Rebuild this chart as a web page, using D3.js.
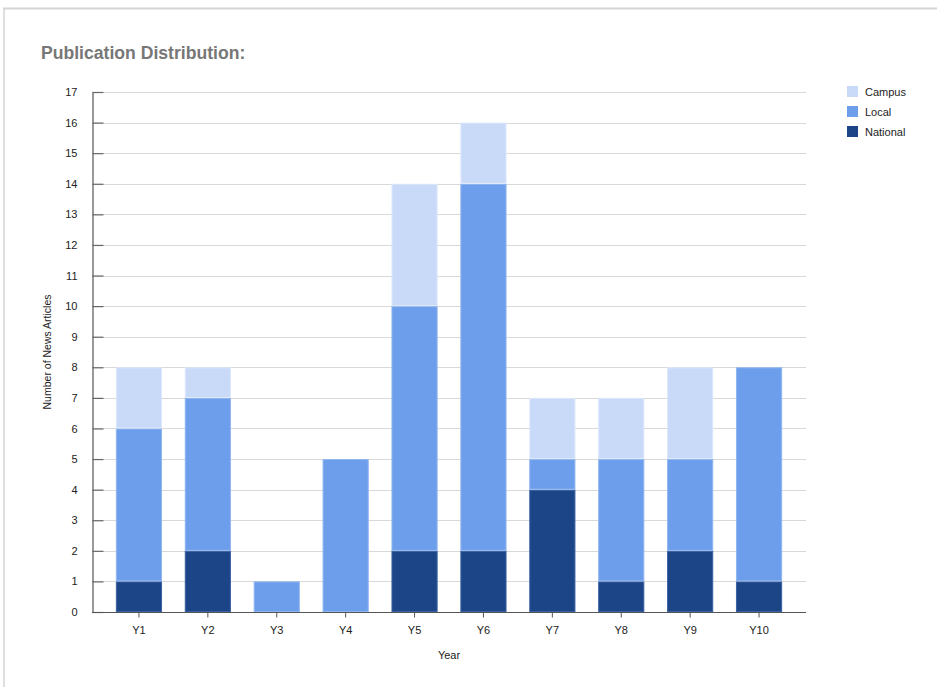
<!DOCTYPE html>
<html>
<head>
<meta charset="utf-8">
<script src="https://cdn.jsdelivr.net/npm/d3@7"></script>
<style>
  html, body { margin: 0; padding: 0; background: #fff; }
  svg { display: block; font-family: "Liberation Sans", Arial, Helvetica, sans-serif; }
</style>
</head>
<body>
<svg id="chart" width="937" height="687"></svg>
<script>
// Publication counts per year, split by outlet type
const years = ["Y1", "Y2", "Y3", "Y4", "Y5", "Y6", "Y7", "Y8", "Y9", "Y10"];
const national = [1, 2, 0, 0, 2, 2, 4, 1, 2, 1];
const local    = [5, 5, 1, 5, 8, 12, 1, 4, 3, 7];
const campus   = [2, 1, 0, 0, 4, 2, 2, 2, 3, 0];
const seriesNames = ["National", "Local", "Campus"];
const legendOrder = ["Campus", "Local", "National"];
const yTicks = d3.range(0, 18);

const colors = { National: "#1c4587", Local: "#6d9eeb", Campus: "#c9daf8" };
const strokes = { National: "#3a62a3", Local: "#8fb5f0", Campus: "#dde8fb" };

const rows = years.map((y, i) => ({ year: y, National: national[i], Local: local[i], Campus: campus[i] }));
const stacked = d3.stack().keys(seriesNames)(rows);

const svg = d3.select("#chart");

// frame lines along top and left edge
svg.append("line").attr("x1", 3).attr("x2", 937).attr("y1", 8.5).attr("y2", 8.5)
  .attr("stroke", "#d4d4d4").attr("stroke-width", 2);
svg.append("line").attr("x1", 4).attr("x2", 4).attr("y1", 8).attr("y2", 687)
  .attr("stroke", "#d4d4d4").attr("stroke-width", 1.5);

const plot = { left: 92, right: 806, top: 92, bottom: 612 };

const x = d3.scaleBand().domain(years)
  .range([plot.left + 12.5, plot.right - 12.5])
  .paddingInner(0.33).paddingOuter(0.165);
const y = d3.scaleLinear().domain([0, 17]).range([plot.bottom, plot.top]);

// title
svg.append("text").attr("x", 41).attr("y", 59)
  .attr("font-size", 17.6).attr("font-weight", "bold").attr("fill", "#777")
  .text("Publication Distribution:");

// gridlines
svg.append("g").selectAll("line").data(yTicks.filter(d => d > 0)).join("line")
  .attr("x1", plot.left).attr("x2", plot.right)
  .attr("y1", d => Math.round(y(d)) + 0.5).attr("y2", d => Math.round(y(d)) + 0.5)
  .attr("stroke", "#d9d9d9").attr("stroke-width", 1);

// bars
const layer = svg.append("g").selectAll("g").data(stacked).join("g")
  .attr("fill", d => colors[d.key]).attr("stroke", d => strokes[d.key]);
layer.selectAll("rect").data(d => d.filter(s => s[1] > s[0])).join("rect")
  .attr("x", d => x(d.data.year) + 0.5)
  .attr("width", x.bandwidth() - 1)
  .attr("y", d => y(d[1]) + 0.5)
  .attr("height", d => y(d[0]) - y(d[1]) - 1)
  .attr("stroke-width", 1);

// y axis: ticks pointing into the plot
const yAxis = d3.axisLeft(y).tickValues(yTicks).tickSize(-11).tickPadding(15).tickSizeOuter(0);
const gy = svg.append("g").attr("transform", `translate(${plot.left + 0.5},0)`).call(yAxis);
gy.select(".domain").attr("stroke", "#555").attr("stroke-width", 1.2);
gy.selectAll(".tick line").attr("stroke", "#666").attr("stroke-width", 1.2);
gy.selectAll(".tick text").attr("font-size", 11).attr("fill", "#222")
  .attr("font-family", "Liberation Sans, Arial, sans-serif");

// x axis
const xAxis = d3.axisBottom(x).tickSize(5).tickPadding(9).tickSizeOuter(0);
const gx = svg.append("g").attr("transform", `translate(0,${plot.bottom + 0.5})`).call(xAxis);
gx.select(".domain").attr("d", `M${plot.left},0H${plot.right}`).attr("stroke", "#555").attr("stroke-width", 1.2);
gx.selectAll(".tick line").attr("stroke", "#555");
gx.selectAll(".tick text").attr("font-size", 11).attr("fill", "#222")
  .attr("font-family", "Liberation Sans, Arial, sans-serif");

// axis titles
svg.append("text").attr("x", (plot.left + plot.right) / 2).attr("y", 659)
  .attr("text-anchor", "middle").attr("font-size", 11).attr("fill", "#222").text("Year");
svg.append("text").attr("transform", "translate(51,352) rotate(-90)")
  .attr("text-anchor", "middle").attr("font-size", 10.5).attr("fill", "#222").text("Number of News Articles");

// legend
const lg = svg.append("g").attr("transform", "translate(847,86)");
const items = lg.selectAll("g").data(legendOrder).join("g")
  .attr("transform", (d, i) => `translate(0,${i * 20})`);
items.append("rect").attr("width", 11).attr("height", 11).attr("fill", d => colors[d]);
items.append("text").attr("x", 18).attr("y", 9.5).attr("font-size", 11).attr("fill", "#222").text(d => d);
</script>
</body>
</html>
